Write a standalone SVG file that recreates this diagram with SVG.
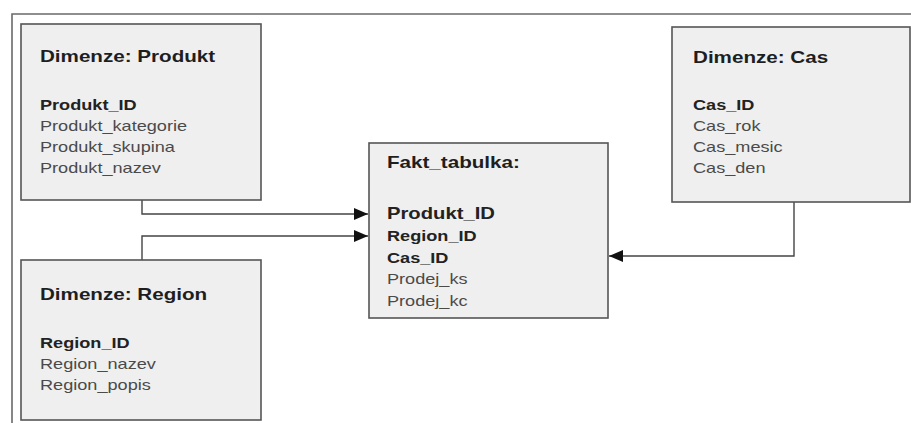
<svg xmlns="http://www.w3.org/2000/svg" width="911" height="423" viewBox="0 0 911 423">
  <defs>
    <marker id="arrow" viewBox="0 0 14 12" refX="14" refY="6" markerWidth="14" markerHeight="12" markerUnits="userSpaceOnUse" orient="auto">
      <path d="M0,0 L14,6 L0,12 Z" fill="#111"/>
    </marker>
  </defs>
  <style>
    .frame { fill: none; stroke: #6a6a6a; stroke-width: 1.6; }
    .box { fill: #efefef; stroke: #555; stroke-width: 1.6; }
    .wire { fill: none; stroke: #444; stroke-width: 1.4; }
    text { font-family: "Liberation Sans", Arial, sans-serif; transform-box: fill-box; transform-origin: 0 0; transform: scaleX(1.25); }
    .title { font-size: 16.5px; font-weight: bold; fill: #1e1e1e; }
    .key { font-size: 14.5px; font-weight: bold; fill: #222; }
    .key-lg { font-size: 16.2px; font-weight: bold; fill: #222; }
    .field { font-size: 14.5px; fill: #4a4a4a; }
  </style>
  <rect width="911" height="423" fill="#fff"/>
  <!-- outer frame (open on right and bottom) -->
  <path class="frame" d="M12,423 L12,14 L911,14"/>

  <g id="connectors">
    <path class="wire" d="M142,200 L142,214 L368,214" marker-end="url(#arrow)"/>
    <path class="wire" d="M142,260 L142,236 L368,236" marker-end="url(#arrow)"/>
    <path class="wire" d="M794,202 L794,256 L609,256" marker-end="url(#arrow)"/>
  </g>

  <g id="dim-produkt">
    <rect class="box" x="21" y="24" width="240" height="176"/>
    <text class="title" x="40" y="62">Dimenze: Produkt</text>
    <text class="key" x="40" y="110">Produkt_ID</text>
    <text class="field" x="40" y="131">Produkt_kategorie</text>
    <text class="field" x="40" y="152">Produkt_skupina</text>
    <text class="field" x="40" y="173">Produkt_nazev</text>
  </g>

  <g id="dim-region">
    <rect class="box" x="21" y="260" width="240" height="160"/>
    <text class="title" x="40" y="300">Dimenze: Region</text>
    <text class="key" x="40" y="348">Region_ID</text>
    <text class="field" x="40" y="369">Region_nazev</text>
    <text class="field" x="40" y="390">Region_popis</text>
  </g>

  <g id="fakt-tabulka">
    <rect class="box" x="369" y="143" width="239" height="175"/>
    <text class="title" x="387" y="168">Fakt_tabulka:</text>
    <text class="key-lg" x="387" y="219">Produkt_ID</text>
    <text class="key" x="387" y="241">Region_ID</text>
    <text class="key" x="387" y="263">Cas_ID</text>
    <text class="field" x="387" y="284">Prodej_ks</text>
    <text class="field" x="387" y="306">Prodej_kc</text>
  </g>

  <g id="dim-cas">
    <rect class="box" x="672" y="27" width="238" height="175"/>
    <text class="title" x="693" y="63">Dimenze: Cas</text>
    <text class="key" x="693" y="110">Cas_ID</text>
    <text class="field" x="693" y="131">Cas_rok</text>
    <text class="field" x="693" y="152">Cas_mesic</text>
    <text class="field" x="693" y="173">Cas_den</text>
  </g>
</svg>
